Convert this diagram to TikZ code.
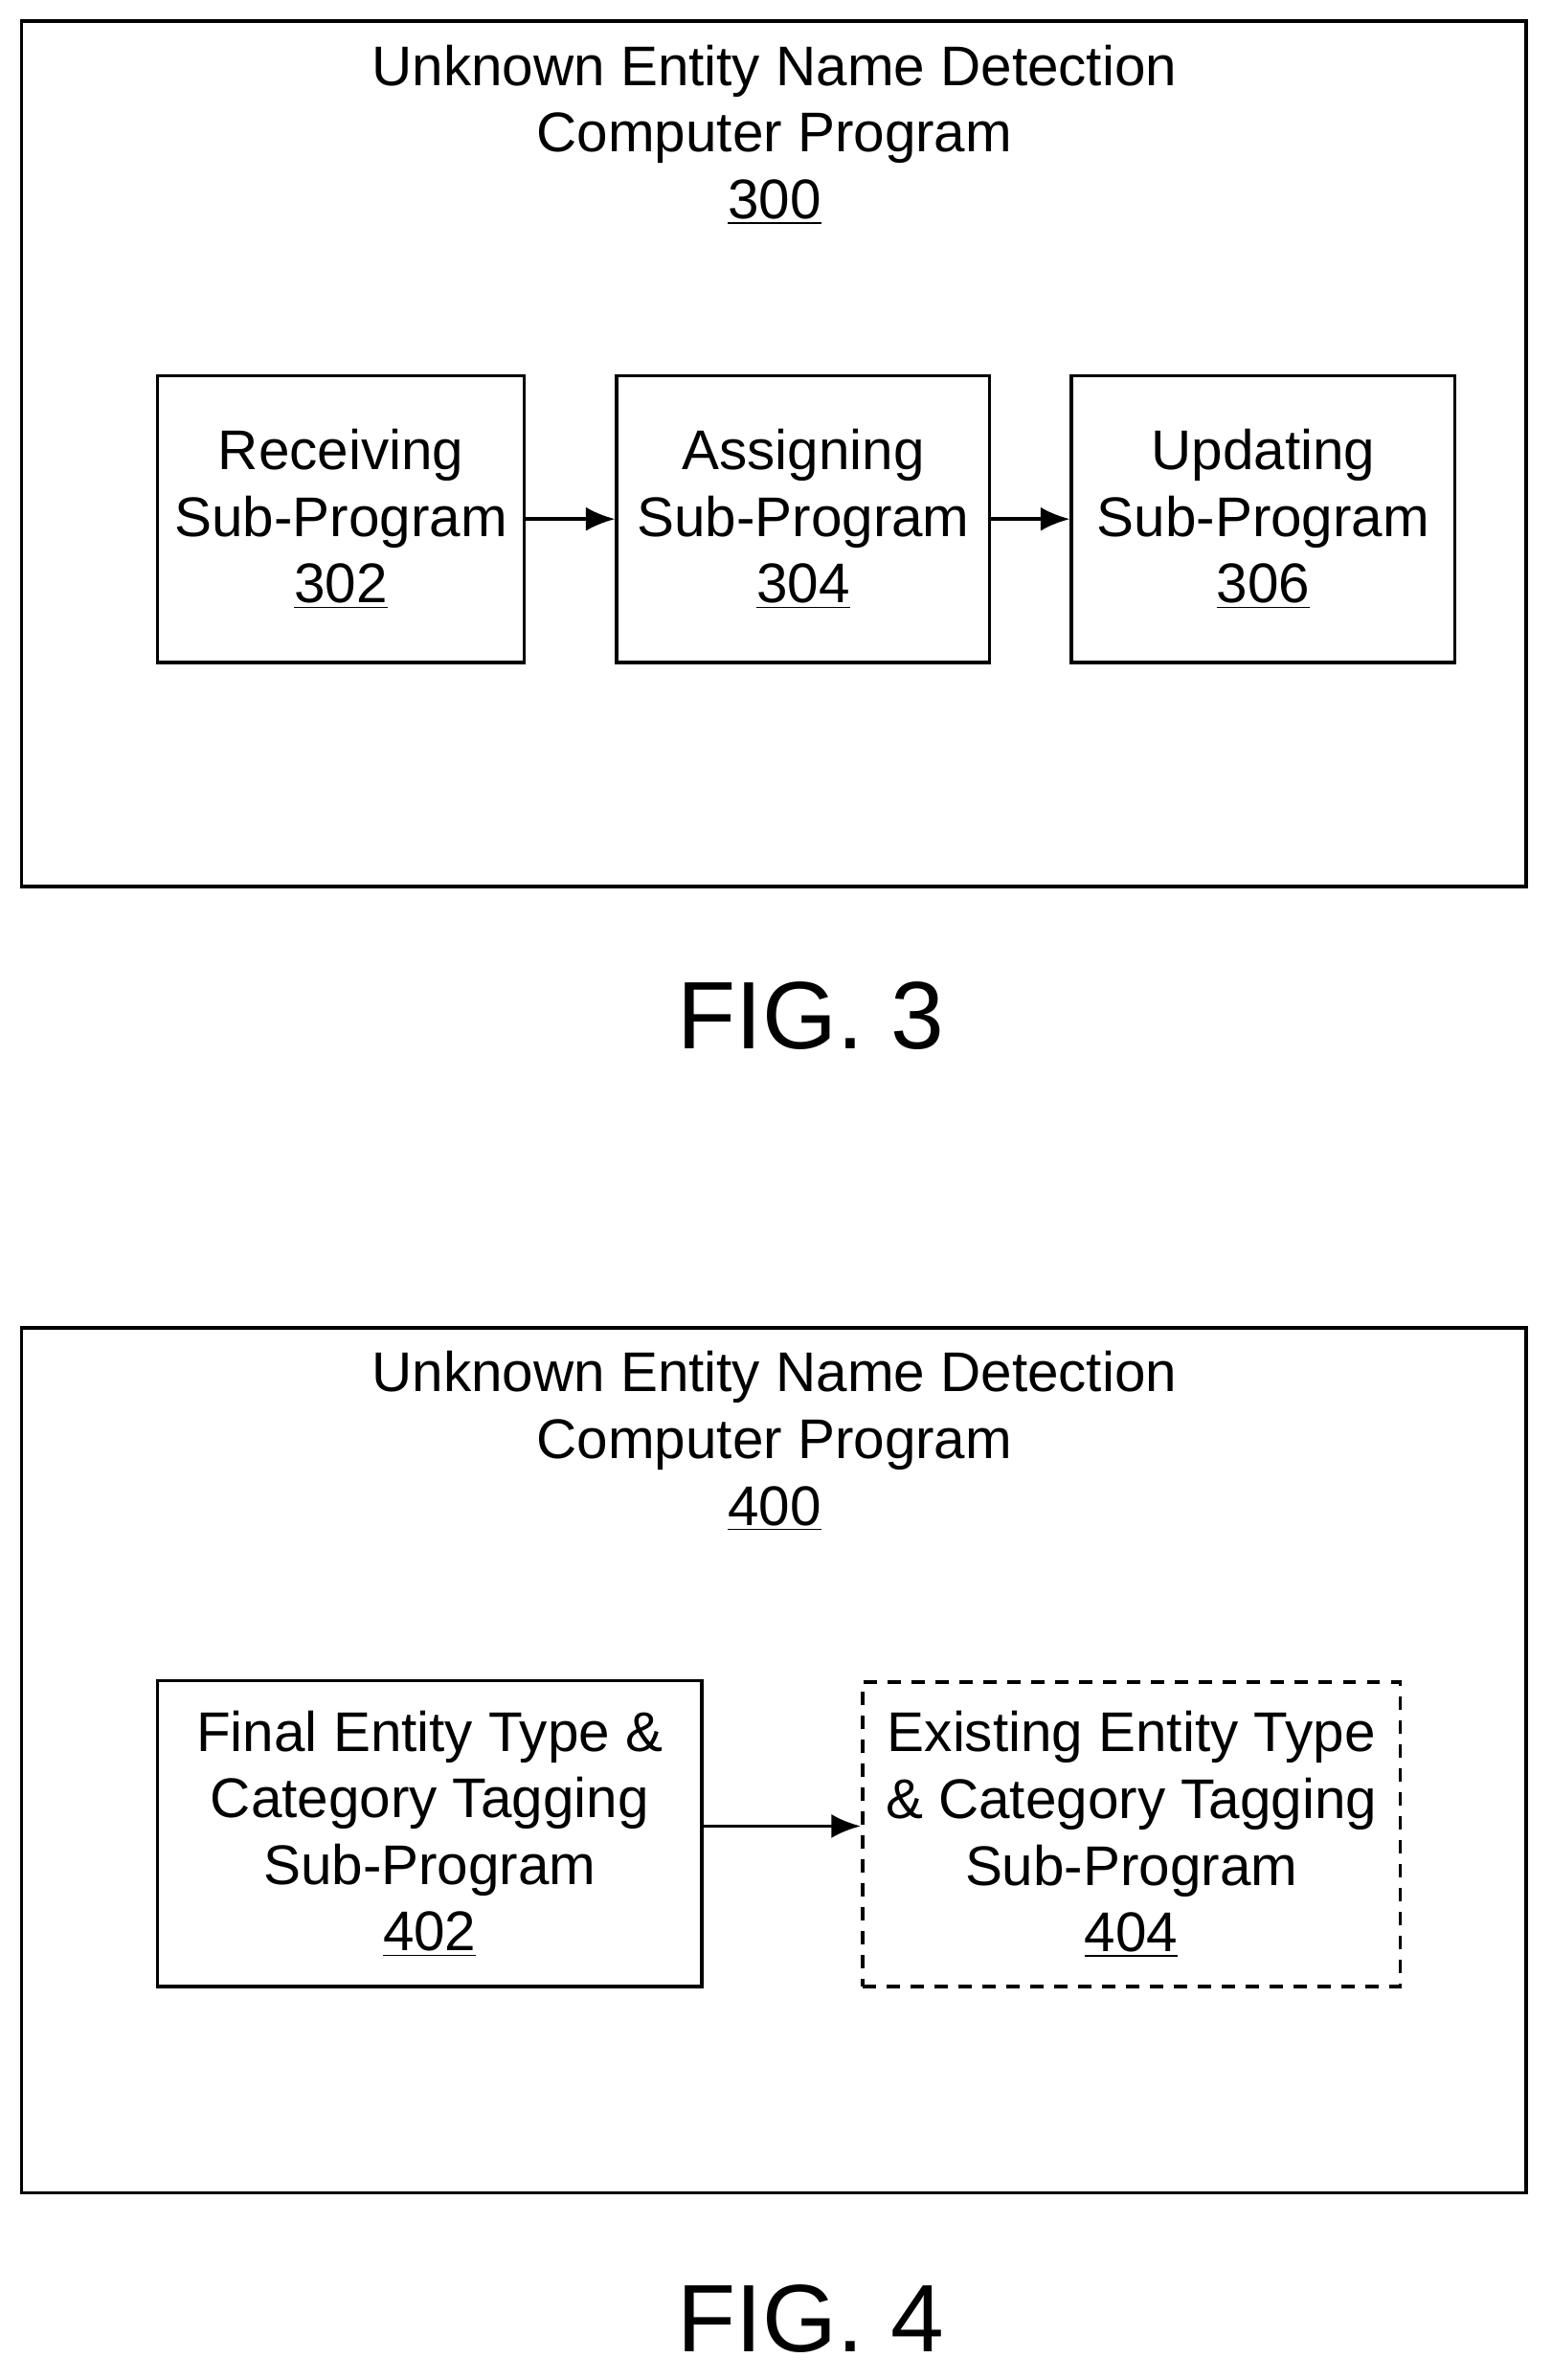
\documentclass[tikz,border=0pt]{standalone}
\usepackage{fontspec}
\setmainfont{Liberation Sans}
\usetikzlibrary{arrows.meta}
\begin{document}
\begin{tikzpicture}
  [x=0.02cm,y=-0.02cm,
   every node/.style={font=\fontsize{21}{25}\selectfont,align=center,inner sep=0pt},
   frame/.style={draw,line width=1.3pt,minimum width=19.86cm,minimum height=11.42cm},
   sub/.style={draw,line width=1.3pt},
   link/.style={-{Latex[length=11pt,width=9pt]},line width=1.3pt},
   fig/.style={font=\fontsize{36}{42}\selectfont}]
  \useasboundingbox (0,0) rectangle (1024,1570.5);

  % FIG. 3
  \node[frame] (p300) at (510.5,299.5) {};
  \node (t300) at (511,89) {Unknown Entity Name Detection\\Computer Program\\\underline{300}};
  \node[sub,minimum width=4.84cm,minimum height=3.78cm] (s302) at (225,342.5) {Receiving\\Sub-Program\\\underline{302}};
  \node[sub,minimum width=4.92cm,minimum height=3.78cm] (s304) at (530,342.5) {Assigning\\Sub-Program\\\underline{304}};
  \node[sub,minimum width=5.06cm,minimum height=3.78cm] (s306) at (833.5,342.5) {Updating\\Sub-Program\\\underline{306}};
  \draw[link] (s302) -- (s304);
  \draw[link] (s304) -- (s306);
  \node[fig] (f3) at (535,670) {FIG. 3};

  % FIG. 4
  \node[frame] (p400) at (510.5,1161.5) {};
  \node (t400) at (511,951) {Unknown Entity Name Detection\\Computer Program\\\underline{400}};
  \node[sub,minimum width=7.18cm,minimum height=4.04cm] (s402) at (283.5,1210) {Final Entity Type \&\\Category Tagging\\Sub-Program\\\underline{402}};
  \node[sub,dash pattern=on 5pt off 4pt,minimum width=7.1cm,minimum height=4.02cm] (s404) at (746.5,1210.5) {Existing Entity Type\\\& Category Tagging\\Sub-Program\\\underline{404}};
  \draw[link] (s402.east |- 0,1205) -- (s404.west |- 0,1205);
  \node[fig] (f4) at (535,1530) {FIG. 4};
\end{tikzpicture}
\end{document}
